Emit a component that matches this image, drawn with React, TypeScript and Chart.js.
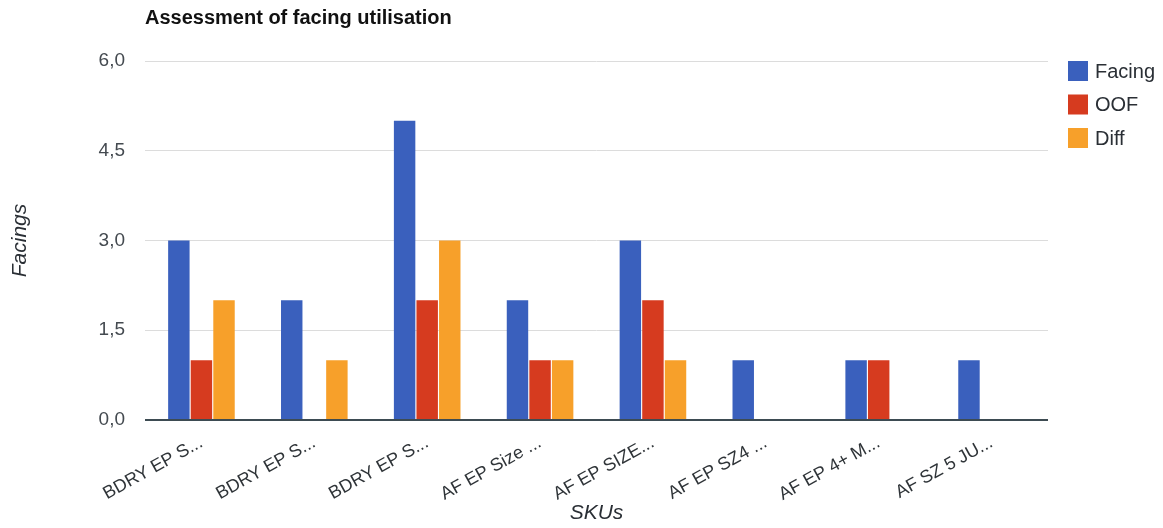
import React, { useEffect, useRef } from "react";
import { Chart, registerables } from "chart.js";

Chart.register(...registerables);

const chartTitle = "Assessment of facing utilisation";
const xAxisTitle = "SKUs";
const yAxisTitle = "Facings";

const skuLabels = [
  "BDRY EP S...",
  "BDRY EP S...",
  "BDRY EP S...",
  "AF EP Size ...",
  "AF EP SIZE...",
  "AF EP SZ4 ...",
  "AF EP 4+ M...",
  "AF SZ 5 JU...",
];

const facingValues = [3, 2, 5, 2, 3, 1, 1, 1];
const oofValues = [1, 0, 2, 1, 2, 0, 1, 0];
const diffValues = [2, 1, 3, 1, 1, 0, 0, 0];

const seriesNames = ["Facing", "OOF", "Diff"];
const seriesColors = ["#3a60bd", "#d63b1f", "#f7a02a"];

const FONT = "Arial, 'Liberation Sans', sans-serif";

// Title and legend drawn at fixed spots around the plot area.
const decorPlugin = {
  id: "decor",
  afterDraw(chart: any) {
    const ctx = chart.ctx;
    const area = chart.chartArea;
    ctx.save();
    ctx.fillStyle = "#111";
    ctx.font = `bold 20px ${FONT}`;
    ctx.textBaseline = "middle";
    ctx.textAlign = "left";
    ctx.fillText(chartTitle, area.left, 18);

    const lx = area.right + 20;
    chart.data.datasets.forEach((ds: any, i: number) => {
      const cy = 71 + i * 33.5;
      ctx.fillStyle = ds.backgroundColor;
      ctx.fillRect(lx, cy - 10, 20, 20);
      ctx.fillStyle = "#2a2f35";
      ctx.font = `20px ${FONT}`;
      ctx.fillText(ds.label, lx + 27, cy + 1);
    });
    ctx.restore();
  },
};

export default function App() {
  const canvasRef = useRef<HTMLCanvasElement | null>(null);

  useEffect(() => {
    const canvas = canvasRef.current;
    if (!canvas) return;
    const chart = new Chart(canvas, {
      type: "bar",
      data: {
        labels: skuLabels,
        datasets: [facingValues, oofValues, diffValues].map((values, i) => ({
          label: seriesNames[i],
          data: values,
          backgroundColor: seriesColors[i],
          borderWidth: 0,
          categoryPercentage: 0.6,
          barPercentage: 0.95,
        })),
      },
      options: {
        animation: false,
        responsive: false,
        maintainAspectRatio: false,
        layout: { padding: { top: 61, right: 115, left: 0, bottom: 0 } },
        plugins: {
          legend: { display: false },
          title: { display: false },
          tooltip: { enabled: false },
        },
        scales: {
          x: {
            grid: { display: false, drawTicks: false },
            border: { display: false },
            ticks: {
              color: "#2f3438",
              font: { family: FONT, size: 18 },
              minRotation: 29,
              maxRotation: 29,
              autoSkip: false,
              padding: 12,
            },
            title: {
              display: true,
              text: xAxisTitle,
              color: "#2a2f35",
              font: { family: FONT, size: 21, style: "italic" },
              padding: { top: 0, bottom: 2 },
            },
            afterFit(scale: any) {
              scale.height = 108;
            },
          },
          y: {
            min: 0,
            max: 6,
            ticks: {
              stepSize: 1.5,
              color: "#444a50",
              font: { family: FONT, size: 19 },
              padding: 20,
              callback: (v: any) => Number(v).toFixed(1).replace(".", ","),
            },
            grid: {
              drawTicks: false,
              color: (c: any) => (c.tick && c.tick.value === 0 ? "#3d4b52" : "#dcdcdc"),
              lineWidth: (c: any) => (c.tick && c.tick.value === 0 ? 2 : 1),
            },
            border: { display: false },
            title: {
              display: true,
              text: yAxisTitle,
              color: "#2a2f35",
              font: { family: FONT, size: 21, style: "italic" },
              padding: { top: 8, bottom: 0 },
            },
            afterFit(scale: any) {
              scale.width = 145;
            },
          },
        },
      },
      plugins: [decorPlugin],
    });
    return () => chart.destroy();
  }, []);

  return (
    <div style={{ position: "fixed", left: 0, top: 0, width: 1163, height: 528, background: "#fff" }}>
      <canvas ref={canvasRef} width={1163} height={528} />
    </div>
  );
}
